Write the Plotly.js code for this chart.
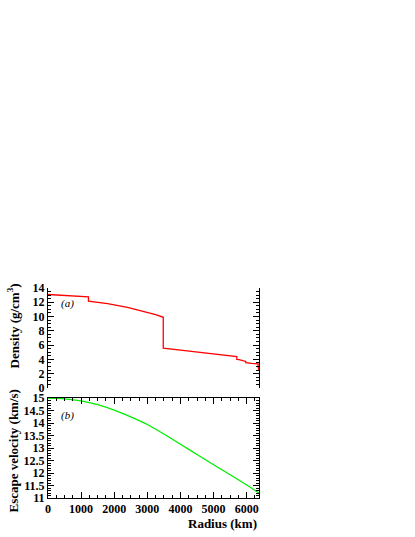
<!DOCTYPE html>
<html>
<head>
<meta charset="utf-8">
<script src="https://cdn.plot.ly/plotly-3.0.1.min.js"></script>
<style>
  html, body { margin: 0; padding: 0; background: #fff; }
  #plot { width: 415px; height: 537px; }
</style>
</head>
<body>
<div id="plot"></div>
<script>
// density profile (km, g/cm^3), repeated radii mark the jumps
const densRadius = [0, 1221, 1221, 1800, 2400, 3000, 3250, 3480, 3480, 4000, 4500, 5000, 5400, 5701, 5701, 5771, 5971, 5971, 6151, 6346, 6346, 6356, 6356, 6371];
const density = [13.09, 12.76, 12.17, 11.81, 11.29, 10.60, 10.26, 9.90, 5.57, 5.31, 5.06, 4.79, 4.56, 4.38, 3.99, 3.98, 3.72, 3.54, 3.44, 3.38, 2.90, 2.90, 2.60, 2.60];

// escape velocity (km/s)
const velRadius = [0, 500, 1000, 1500, 2000, 2500, 3000, 3500, 4000, 4500, 5000, 5500, 6000, 6371];
const escVel = [15.0, 14.97, 14.89, 14.74, 14.52, 14.25, 13.94, 13.56, 13.15, 12.74, 12.33, 11.93, 11.52, 11.2];

const serif = "Liberation Serif, Times New Roman, serif";
const tickFont = { family: serif, size: 12, color: "#000", weight: "bold" };
const titleFont = { family: serif, size: 13, color: "#000", weight: "bold" };

function axisStyle(extra) {
  return Object.assign({
    showline: true, linecolor: "#000", linewidth: 1, mirror: "ticks",
    ticks: "inside", ticklen: 6, tickcolor: "#000", tickwidth: 1,
    showgrid: false, zeroline: false,
    tickfont: tickFont
  }, extra);
}

const traces = [
  {
    x: densRadius, y: density, xaxis: "x", yaxis: "y2",
    mode: "lines", line: { color: "#ff0000", width: 1.3 }, hoverinfo: "skip"
  },
  {
    x: velRadius, y: escVel, xaxis: "x", yaxis: "y",
    mode: "lines", line: { color: "#00ee00", width: 1.3, shape: "spline" }, hoverinfo: "skip"
  }
];

const layout = {
  width: 415, height: 537,
  margin: { l: 48, r: 156, t: 288, b: 39 },
  paper_bgcolor: "#fff", plot_bgcolor: "#fff",
  showlegend: false,
  font: { family: serif },
  xaxis: axisStyle({
    range: [0, 6371], dtick: 1000, tick0: 0,
    minor: { dtick: 250, ticklen: 3, ticks: "inside", tickcolor: "#000" },
    anchor: "y"
  }),
  xaxis2: axisStyle({
    range: [0, 6371], dtick: 1000, tick0: 0, showticklabels: false,
    minor: { dtick: 250, ticklen: 3, ticks: "inside", tickcolor: "#000" },
    anchor: "y2", matches: "x"
  }),
  yaxis: axisStyle({
    domain: [0, 0.476], range: [11, 15], dtick: 0.5, tick0: 11,
    minor: { dtick: 0.1, ticklen: 3, ticks: "inside", tickcolor: "#000" },
    anchor: "x"
  }),
  yaxis2: axisStyle({
    domain: [0.524, 1], range: [0, 14], dtick: 2, tick0: 0,
    minor: { dtick: 0.5, ticklen: 3, ticks: "inside", tickcolor: "#000" },
    anchor: "x2"
  }),
  annotations: [
    { text: "Radius (km)", xref: "paper", yref: "paper", x: 1, y: 0,
      xanchor: "right", yanchor: "top", yshift: -16, showarrow: false, font: titleFont },
    { text: "Density (g/cm<sup>3</sup>)", xref: "paper", yref: "paper", x: 0, y: 1,
      xanchor: "center", yanchor: "top", xshift: -35, yshift: 6, textangle: -90,
      showarrow: false, font: titleFont },
    { text: "Escape velocity (km/s)", xref: "paper", yref: "paper", x: 0, y: 0.476,
      xanchor: "center", yanchor: "top", xshift: -34, yshift: 10, textangle: -90,
      showarrow: false, font: titleFont },
    { text: "<i>(a)</i>", xref: "paper", yref: "paper", x: 0, y: 1,
      xanchor: "left", yanchor: "top", xshift: 11, yshift: -7, showarrow: false,
      font: { family: serif, size: 11, color: "#000" } },
    { text: "<i>(b)</i>", xref: "paper", yref: "paper", x: 0, y: 0.476,
      xanchor: "left", yanchor: "top", xshift: 11, yshift: -9, showarrow: false,
      font: { family: serif, size: 11, color: "#000" } }
  ]
};

Plotly.newPlot("plot", traces, layout, { staticPlot: true, displayModeBar: false });
</script>
</body>
</html>
